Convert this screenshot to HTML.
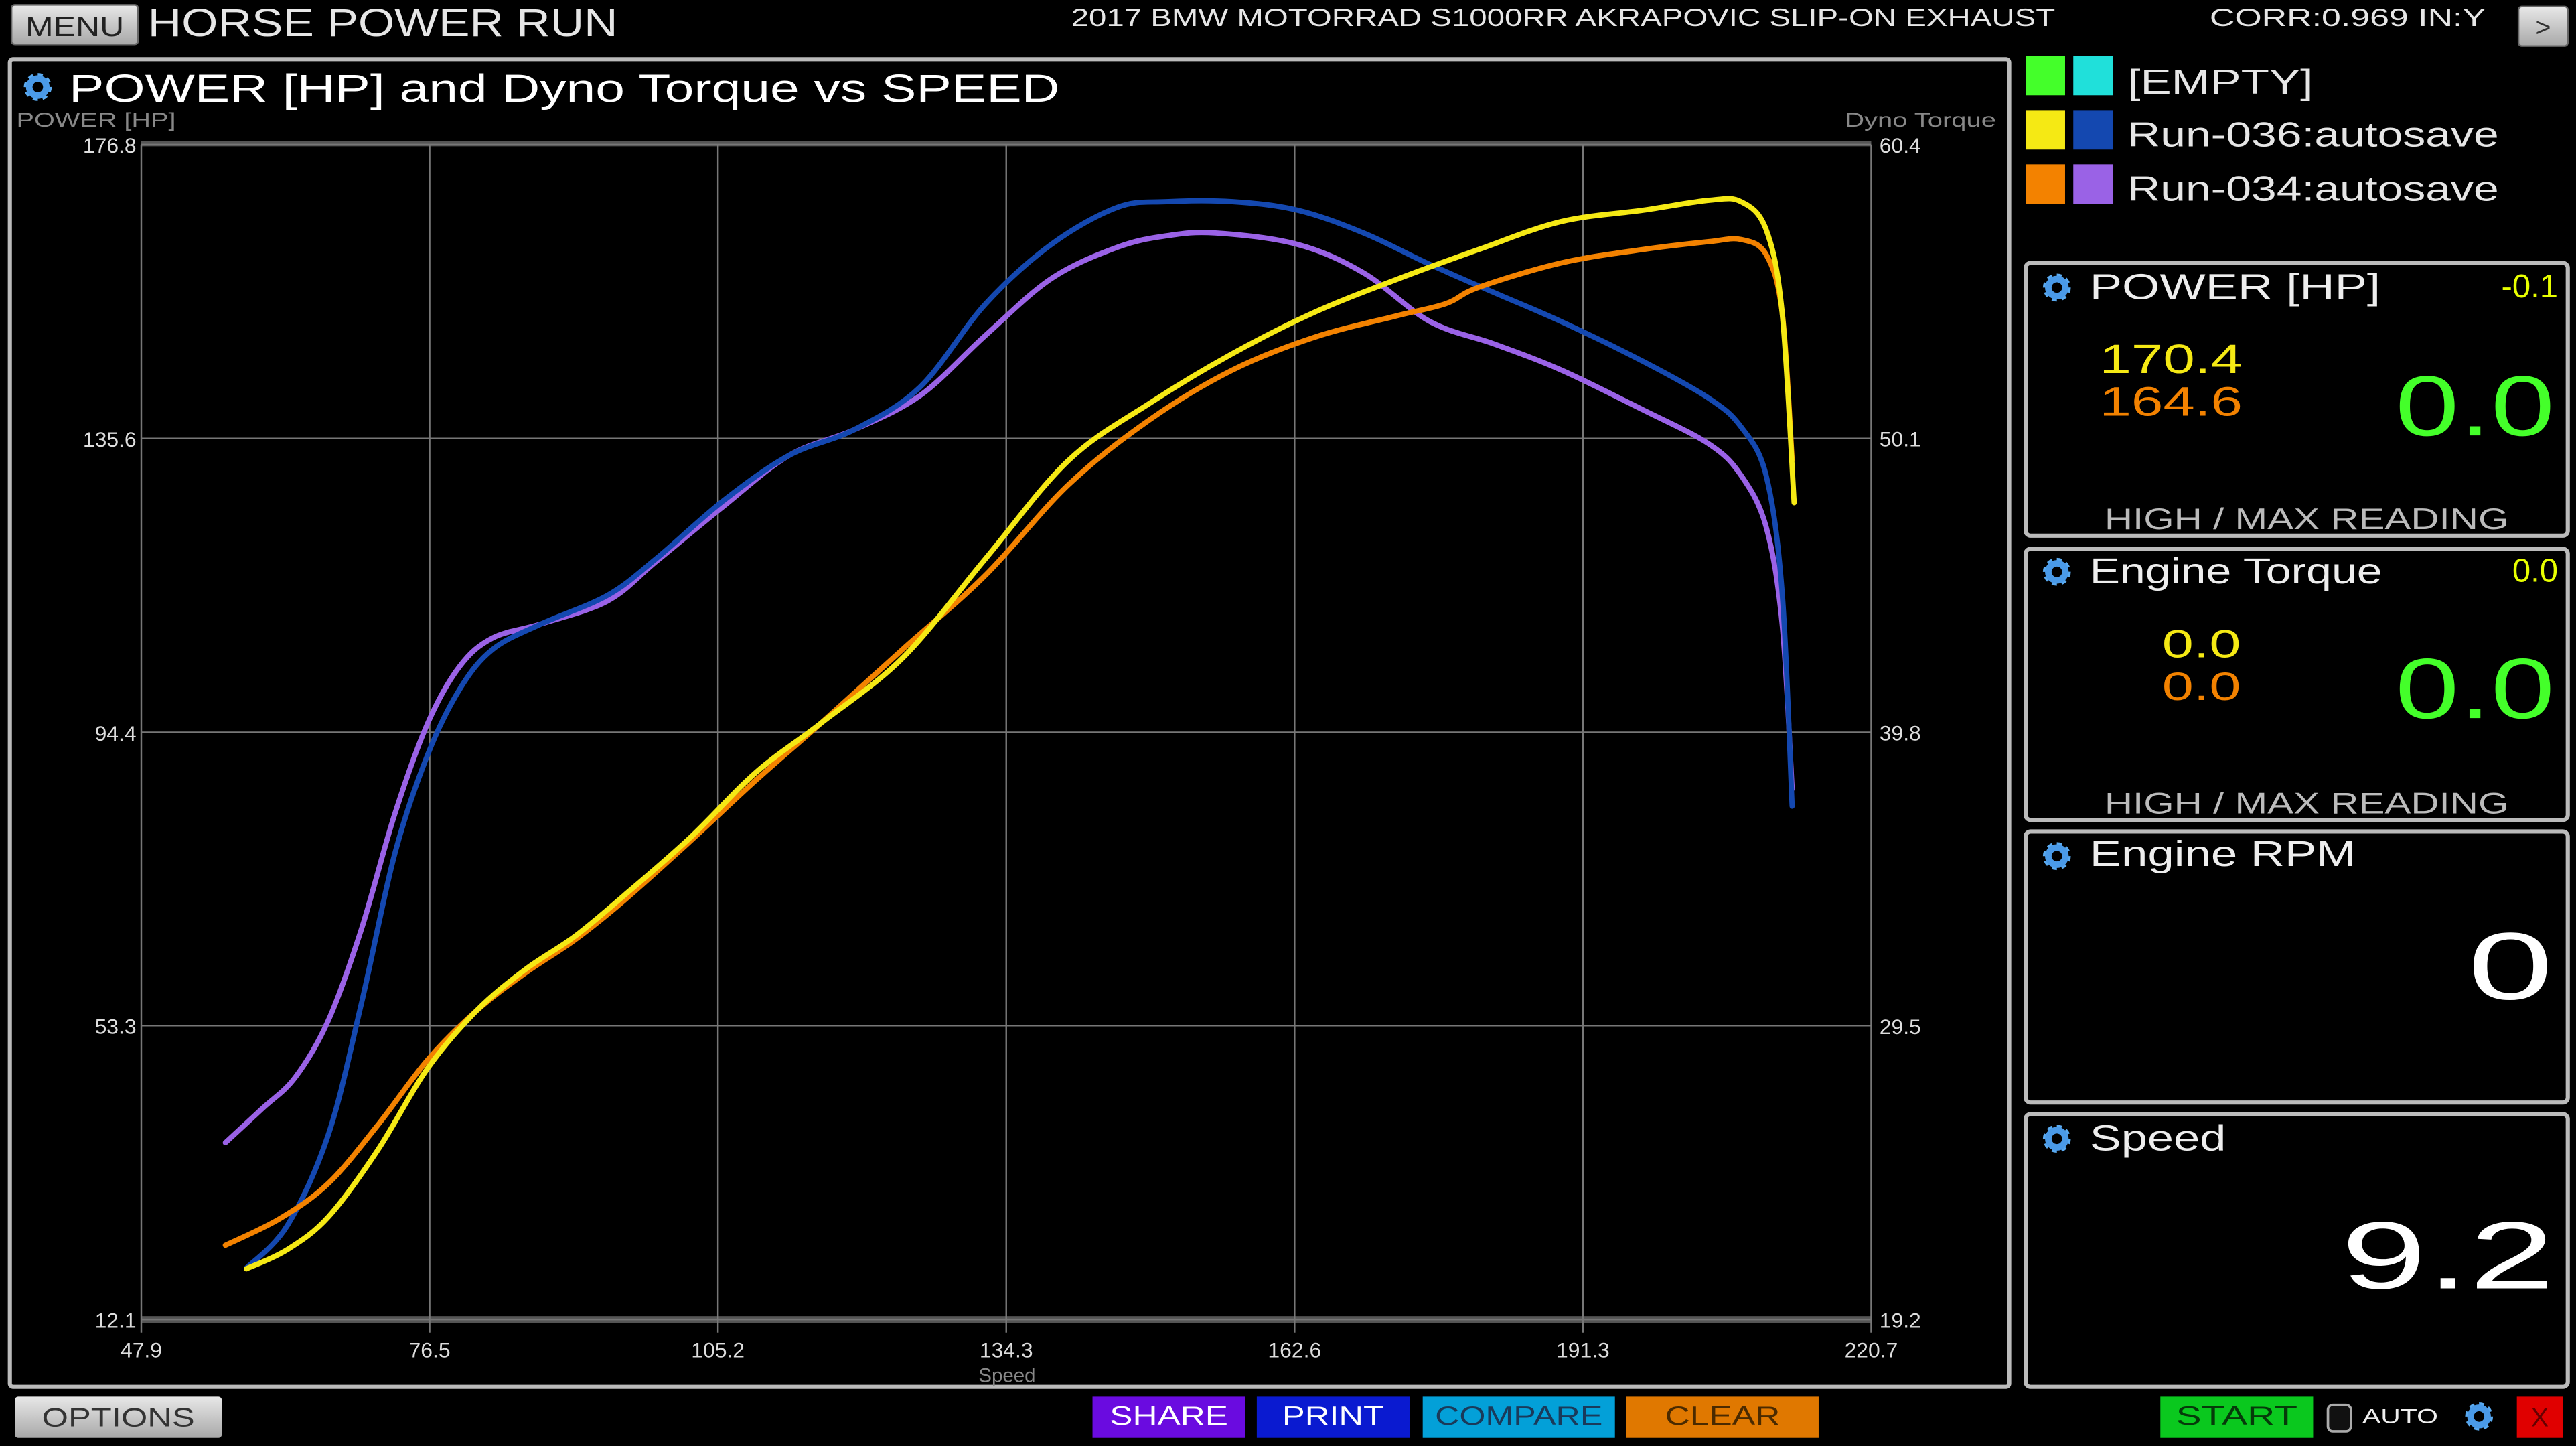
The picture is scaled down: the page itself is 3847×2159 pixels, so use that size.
<!DOCTYPE html>
<html><head><meta charset="utf-8">
<style>
html,body{margin:0;padding:0;background:#000;overflow:hidden}
svg{display:block}
text{font-family:"Liberation Sans",sans-serif}
</style></head>
<body>
<svg id="root" width="3847" height="2159" viewBox="0 0 1568 880" preserveAspectRatio="none" xmlns="http://www.w3.org/2000/svg">
<defs>
<linearGradient id="gbtn" x1="0" y1="0" x2="0" y2="1"><stop offset="0" stop-color="#e8e8e8"/><stop offset="1" stop-color="#a8a8a8"/></linearGradient>
<g id="gear"><circle r="6" fill="none" stroke="#5aaaf0" stroke-width="5" stroke-dasharray="2.4 2.3"/><circle r="5.2" fill="none" stroke="#4a9ae8" stroke-width="4"/><circle r="2.2" fill="#000"/></g>
</defs>
<rect width="1568" height="880" fill="#000"/>

<!-- top bar -->
<rect x="7" y="3" width="77" height="24" rx="2" fill="url(#gbtn)" stroke="#666"/>
<text x="45.5" y="22" font-size="17" fill="#222" text-anchor="middle" textLength="60" lengthAdjust="spacingAndGlyphs">MENU</text>
<text x="90" y="22" font-size="24" fill="#e6e6e6" textLength="286" lengthAdjust="spacingAndGlyphs">HORSE POWER RUN</text>
<text x="652" y="16" font-size="15" fill="#e6e6e6" textLength="599" lengthAdjust="spacingAndGlyphs">2017 BMW MOTORRAD S1000RR AKRAPOVIC SLIP-ON EXHAUST</text>
<text x="1345" y="16" font-size="15" fill="#e6e6e6" textLength="168" lengthAdjust="spacingAndGlyphs">CORR:0.969 IN:Y</text>
<rect x="1533" y="4" width="30" height="24" rx="2" fill="url(#gbtn)" stroke="#666"/>
<text x="1548" y="22" font-size="16" fill="#333" text-anchor="middle">&gt;</text>

<!-- chart panel -->
<rect x="6" y="36" width="1217" height="808" fill="#000" stroke="#bbb" stroke-width="2.5" rx="2"/>
<use href="#gear" x="23" y="53"/>
<text x="42" y="62" font-size="24" fill="#fff" textLength="603" lengthAdjust="spacingAndGlyphs">POWER [HP] and Dyno Torque vs SPEED</text>
<text x="10" y="77" font-size="12" fill="#888" textLength="97" lengthAdjust="spacingAndGlyphs">POWER [HP]</text>
<text x="1215" y="77" font-size="12" fill="#888" text-anchor="end" textLength="92" lengthAdjust="spacingAndGlyphs">Dyno Torque</text>
<text x="613" y="841" font-size="12" fill="#888" text-anchor="middle">Speed</text>
<g id="grid"></g>
<g id="series"></g>

<!-- legend -->
<rect x="1233" y="34" width="24" height="24" fill="#44ff2a"/>
<rect x="1262" y="34" width="24" height="24" fill="#20e0da"/>
<text x="1295" y="57" font-size="21" fill="#e6e6e6" textLength="113" lengthAdjust="spacingAndGlyphs">[EMPTY]</text>
<rect x="1233" y="67" width="24" height="24" fill="#f5e914"/>
<rect x="1262" y="67" width="24" height="24" fill="#1448b0"/>
<text x="1295" y="89" font-size="21" fill="#e6e6e6" textLength="226" lengthAdjust="spacingAndGlyphs">Run-036:autosave</text>
<rect x="1233" y="100" width="24" height="24" fill="#f38200"/>
<rect x="1262" y="100" width="24" height="24" fill="#9a62e6"/>
<text x="1295" y="122" font-size="21" fill="#e6e6e6" textLength="226" lengthAdjust="spacingAndGlyphs">Run-034:autosave</text>

<!-- gauge panels -->
<rect x="1233" y="160" width="330" height="166" rx="3" fill="#000" stroke="#bbb" stroke-width="2.5"/>
<use href="#gear" x="1252" y="175"/>
<text x="1272" y="182" font-size="22" fill="#eee" textLength="177" lengthAdjust="spacingAndGlyphs">POWER [HP]</text>
<text x="1557" y="181" font-size="20" fill="#e8ff00" text-anchor="end">-0.1</text>
<text x="1278" y="227" font-size="25" fill="#f5e914" textLength="87" lengthAdjust="spacingAndGlyphs">170.4</text>
<text x="1278" y="253" font-size="25" fill="#f38200" textLength="87" lengthAdjust="spacingAndGlyphs">164.6</text>
<text x="1555" y="265" font-size="52" fill="#44ff2a" text-anchor="end" textLength="97" lengthAdjust="spacingAndGlyphs">0.0</text>
<text x="1404" y="322" font-size="18" fill="#bbb" text-anchor="middle" textLength="246" lengthAdjust="spacingAndGlyphs">HIGH / MAX READING</text>

<rect x="1233" y="334" width="330" height="165" rx="3" fill="#000" stroke="#bbb" stroke-width="2.5"/>
<use href="#gear" x="1252" y="348"/>
<text x="1272" y="355" font-size="22" fill="#eee" textLength="178" lengthAdjust="spacingAndGlyphs">Engine Torque</text>
<text x="1557" y="354" font-size="20" fill="#e8ff00" text-anchor="end">0.0</text>
<text x="1316" y="400" font-size="24" fill="#f5e914" textLength="48" lengthAdjust="spacingAndGlyphs">0.0</text>
<text x="1316" y="426" font-size="24" fill="#f38200" textLength="48" lengthAdjust="spacingAndGlyphs">0.0</text>
<text x="1555" y="437" font-size="52" fill="#44ff2a" text-anchor="end" textLength="97" lengthAdjust="spacingAndGlyphs">0.0</text>
<text x="1404" y="495" font-size="18" fill="#bbb" text-anchor="middle" textLength="246" lengthAdjust="spacingAndGlyphs">HIGH / MAX READING</text>

<rect x="1233" y="506" width="330" height="165" rx="3" fill="#000" stroke="#bbb" stroke-width="2.5"/>
<use href="#gear" x="1252" y="521"/>
<text x="1272" y="527" font-size="22" fill="#eee" textLength="162" lengthAdjust="spacingAndGlyphs">Engine RPM</text>
<text x="1554" y="608" font-size="58" fill="#fff" text-anchor="end" textLength="52" lengthAdjust="spacingAndGlyphs">0</text>

<rect x="1233" y="678" width="330" height="166" rx="3" fill="#000" stroke="#bbb" stroke-width="2.5"/>
<use href="#gear" x="1252" y="693"/>
<text x="1272" y="700" font-size="22" fill="#eee" textLength="83" lengthAdjust="spacingAndGlyphs">Speed</text>
<text x="1555" y="784" font-size="58" fill="#fff" text-anchor="end" textLength="130" lengthAdjust="spacingAndGlyphs">9.2</text>

<!-- bottom bar -->
<rect x="9" y="850" width="126" height="25" rx="2" fill="url(#gbtn)"/>
<text x="72" y="868" font-size="16" fill="#333" text-anchor="middle" textLength="93" lengthAdjust="spacingAndGlyphs">OPTIONS</text>
<rect x="665" y="850" width="93" height="25" fill="#6a0be0"/>
<text x="711.5" y="867" font-size="16" fill="#fff" text-anchor="middle" textLength="72" lengthAdjust="spacingAndGlyphs">SHARE</text>
<rect x="765" y="850" width="93" height="25" fill="#0a1ad0"/>
<text x="811.5" y="867" font-size="16" fill="#fff" text-anchor="middle" textLength="62" lengthAdjust="spacingAndGlyphs">PRINT</text>
<rect x="866" y="850" width="117" height="25" fill="#03a0d8"/>
<text x="924.5" y="867" font-size="16" fill="#1a3a5a" text-anchor="middle" textLength="102" lengthAdjust="spacingAndGlyphs">COMPARE</text>
<rect x="990" y="850" width="117" height="25" fill="#e07800"/>
<text x="1048.5" y="867" font-size="16" fill="#4a2a00" text-anchor="middle" textLength="70" lengthAdjust="spacingAndGlyphs">CLEAR</text>
<rect x="1315" y="850" width="93" height="25" fill="#0ac81e"/>
<text x="1361.5" y="867" font-size="16" fill="#063a0a" text-anchor="middle" textLength="74" lengthAdjust="spacingAndGlyphs">START</text>
<rect x="1417" y="855" width="14" height="16" rx="3" fill="#111" stroke="#aaa" stroke-width="1.5"/>
<text x="1438" y="866" font-size="12" fill="#eee" textLength="46" lengthAdjust="spacingAndGlyphs">AUTO</text>
<use href="#gear" x="1509" y="862"/>
<rect x="1532" y="850" width="28" height="25" fill="#e00000"/>
<text x="1546" y="868" font-size="16" fill="#600" text-anchor="middle">X</text>
</svg>
<script>
const xTicks=[47.9,76.5,105.2,134.3,162.6,191.3,220.7];
const yTicks=[12.1,53.3,94.4,135.6,176.8];
const y2Ticks=[19.2,29.5,39.8,50.1,60.4];
const xMin=47.9,xMax=220.7,yMin=12.1,yMax=176.8,y2Min=19.2,y2Max=60.4;

const powerSpeed036=[58.4,62.5,66.6,71.5,76.5,81.4,86.3,91.2,96.1,102.7,109.3,115.8,124.0,132.2,140.5,148.7,156.9,165.1,173.3,181.5,189.7,197.9,204.5,207.7,210.2,211.8,213.0];
const power036=[19.2,21.9,26.5,35.8,47.3,55.4,61.2,65.8,71.5,79.6,88.8,95.7,104.9,118.7,132.5,140.6,147.5,153.3,157.9,162.1,166.0,167.6,169.0,168.8,164.9,153.3,126.6];
const powerSpeed034=[56.3,61.7,66.6,71.5,76.5,81.4,86.3,91.2,96.1,102.7,109.3,115.8,124.0,132.2,140.5,148.7,156.9,165.1,173.3,178.2,181.5,189.7,197.9,204.5,207.7,210.2,211.8,212.8];
const power034=[22.5,26.2,31.2,39.3,48.5,55.4,60.7,65.3,70.8,79.1,87.7,95.7,106.1,116.4,129.1,138.3,145.2,149.8,152.8,154.5,156.8,160.2,162.1,163.2,163.5,161.4,153.3,132.6];
const torqueSpeed036=[58.4,62.5,66.6,69.9,73.2,76.5,79.7,83.0,87.9,94.5,99.4,106.0,112.6,119.1,125.7,132.2,138.8,145.4,150.3,156.9,163.4,170.0,176.6,183.1,189.7,197.9,204.5,207.7,210.2,211.8,212.8];
const torque036=[21.0,22.5,25.7,30.3,35.5,39.0,41.3,42.7,43.6,44.6,45.9,47.9,49.5,50.4,51.9,54.8,56.9,58.2,58.4,58.4,58.1,57.3,56.2,55.2,54.2,52.8,51.5,50.5,48.8,44.7,37.2];
const torqueSpeed034=[56.3,60.0,63.3,66.6,69.9,73.2,76.5,79.7,83.0,87.9,94.5,99.4,106.0,112.6,119.1,125.7,132.2,138.8,145.4,150.3,155.2,163.4,170.0,176.6,183.1,189.7,197.9,204.5,207.7,210.2,211.8,212.8];
const torque034=[25.4,26.6,27.7,29.7,32.9,36.9,40.1,42.1,43.1,43.6,44.4,45.8,47.7,49.5,50.4,51.6,53.7,55.7,56.8,57.2,57.3,56.9,55.9,54.2,53.4,52.5,51.1,49.9,48.8,47.0,43.6,37.8];

const PL=86,PR=1139,PT=88,PB=803;
const NS="http://www.w3.org/2000/svg";
function sx(v){return PL+(v-xMin)/(xMax-xMin)*(PR-PL);}
function tickX(i){return PL+i*(PR-PL)/(xTicks.length-1);}
function sy(v){return PB-(v-yMin)/(yMax-yMin)*(PB-PT);}
function sy2(v){return PB-(v-y2Min)/(y2Max-y2Min)*(PB-PT);}
function mk(tag,attrs,parent){const e=document.createElementNS(NS,tag);for(const k in attrs)e.setAttribute(k,attrs[k]);parent.appendChild(e);return e;}
const grid=document.getElementById('grid');
mk('rect',{x:PL,y:PT-2,width:PR-PL,height:3,fill:'#555'},grid);
mk('rect',{x:PL,y:PB-2,width:PR-PL,height:4,fill:'#555'},grid);
xTicks.forEach((t,i)=>{
  const gx=tickX(i);
  const l=mk('line',{x1:gx,x2:gx,y1:PT,y2:PB+8,stroke:'#777','stroke-width':1},grid);
  
  
  const tx=mk('text',{x:gx,y:826,'font-size':13,fill:'#ddd','text-anchor':'middle'},grid);
  tx.textContent=t.toFixed(1);
  
  
});
yTicks.forEach((t,i)=>{
  const l=mk('line',{x1:PL,x2:PR,y1:sy(t),y2:sy(t),stroke:'#777','stroke-width':1},grid);
  
  
  const tx=mk('text',{x:83,y:sy(t)+5,'font-size':13,fill:'#ddd','text-anchor':'end'},grid);
  tx.textContent=t.toFixed(1);
  
  
});
y2Ticks.forEach((t,i)=>{
  const tx=mk('text',{x:1144,y:sy2(t)+5,'font-size':13,fill:'#ddd'},grid);
  tx.textContent=t.toFixed(1);
  
  
});
function smooth(pts){
  let d='M'+pts[0][0].toFixed(2)+','+pts[0][1].toFixed(2);
  for(let i=0;i<pts.length-1;i++){
    const p0=pts[i-1]||pts[i],p1=pts[i],p2=pts[i+1],p3=pts[i+2]||p2;
    const c1=[p1[0]+(p2[0]-p0[0])/6,p1[1]+(p2[1]-p0[1])/6];
    const c2=[p2[0]-(p3[0]-p1[0])/6,p2[1]-(p3[1]-p1[1])/6];
    d+=' C'+c1.map(v=>v.toFixed(2))+' '+c2.map(v=>v.toFixed(2))+' '+p2.map(v=>v.toFixed(2));
  }
  return d;
}
const ser=document.getElementById('series');
function line(xs,ys,fy,color,name){
  const pts=xs.map((x,i)=>[sx(x),fy(ys[i])]);
  const p=mk('path',{d:smooth(pts),fill:'none',stroke:color,'stroke-width':3.2,'stroke-linejoin':'round','stroke-linecap':'round'},ser);
  
  
}
line(torqueSpeed034,torque034,sy2,'#9a62e6','torque-run034-line');
line(torqueSpeed036,torque036,sy2,'#1448b0','torque-run036-line');
line(powerSpeed034,power034,sy,'#f38200','power-run034-line');
line(powerSpeed036,power036,sy,'#f5e914','power-run036-line');
</script>
</body></html>
